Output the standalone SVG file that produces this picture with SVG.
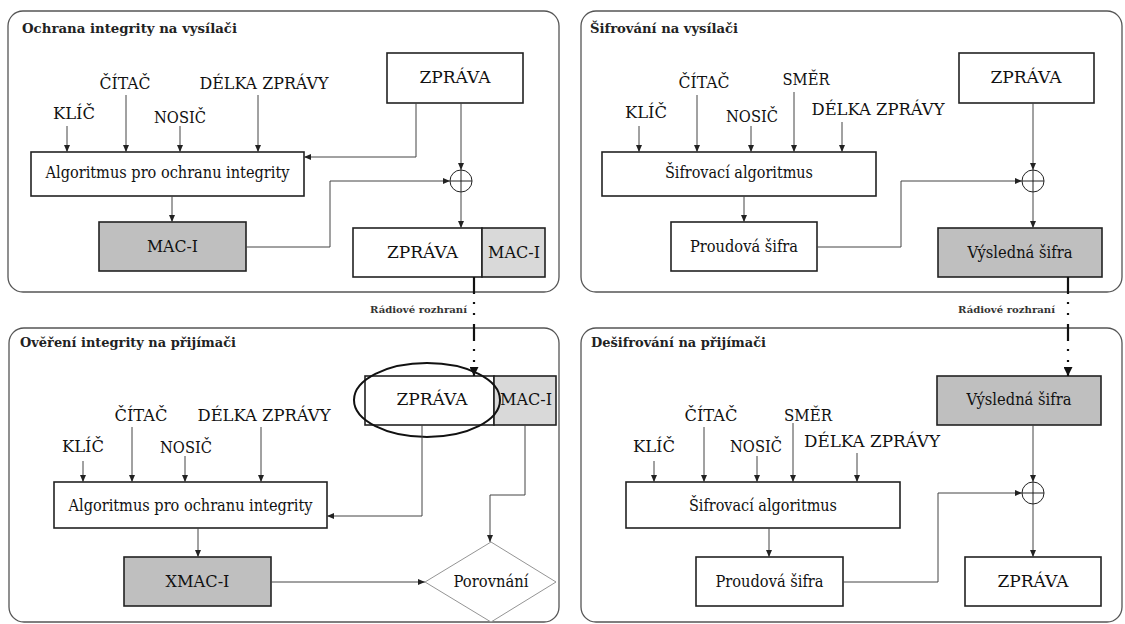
<svg xmlns="http://www.w3.org/2000/svg" width="1125" height="624" viewBox="0 0 1125 624">
<style>
.panel{fill:#fff;stroke:#555;stroke-width:1.3}
.box{fill:#fff;stroke:#222;stroke-width:1.6}
.dark{fill:#bfbfbf}
.light{fill:#d9d9d9}
text{font-family:"DejaVu Serif","Liberation Serif",serif}
.t{font-size:16px;fill:#111;text-anchor:middle}
.title{font-size:13px;font-weight:bold;fill:#222}
.radio{font-size:10px;font-weight:bold;fill:#333}
.c{fill:none;stroke:#444;stroke-width:1}
.dash{fill:none;stroke:#111;stroke-width:2.2;stroke-dasharray:17 8 2 9 2 9}
.xor{fill:#fff;stroke:#222;stroke-width:1}
.dia{fill:#fff;stroke:#888;stroke-width:0.9}
</style>
<defs>
<marker id="a" markerWidth="7" markerHeight="6" refX="7" refY="3" orient="auto" markerUnits="userSpaceOnUse"><path d="M0,0 L7,3 L0,6 Z" fill="#222"/></marker>
<marker id="ab" markerWidth="9" markerHeight="9" refX="9" refY="4.5" orient="auto" markerUnits="userSpaceOnUse"><path d="M0,0 L9,4.5 L0,9 Z" fill="#111"/></marker>
</defs>

<!-- Panels -->
<g id="panel-tl"><rect class="panel" x="8" y="11" width="551" height="281" rx="15"/><text class="title" x="22" y="33" textLength="215" lengthAdjust="spacingAndGlyphs">Ochrana integrity na vysílači</text></g>
<g id="panel-tr"><rect class="panel" x="581" y="11" width="541" height="281" rx="15"/><text class="title" x="590" y="33" textLength="148" lengthAdjust="spacingAndGlyphs">Šifrování na vysílači</text></g>
<g id="panel-bl"><rect class="panel" x="9" y="328" width="550" height="294" rx="15"/><text class="title" x="20" y="347" textLength="216" lengthAdjust="spacingAndGlyphs">Ověření integrity na přijímači</text></g>
<g id="panel-br"><rect class="panel" x="581" y="328" width="541" height="294" rx="15"/><text class="title" x="591" y="347" textLength="175" lengthAdjust="spacingAndGlyphs">Dešifrování na přijímači</text></g>

<!-- Top-left nodes -->
<g id="tl-zprava"><rect class="box" x="387" y="53" width="136" height="50"/><text class="t" x="455" y="83" textLength="71" lengthAdjust="spacingAndGlyphs">ZPRÁVA</text></g>
<g id="tl-labels">
<text class="t" x="125" y="89" textLength="51" lengthAdjust="spacingAndGlyphs">ČÍTAČ</text>
<text class="t" x="264" y="89" textLength="129" lengthAdjust="spacingAndGlyphs">DÉLKA ZPRÁVY</text>
<text class="t" x="74" y="119" textLength="42" lengthAdjust="spacingAndGlyphs">KLÍČ</text>
<text class="t" x="180" y="123" textLength="52" lengthAdjust="spacingAndGlyphs">NOSIČ</text>
</g>
<g id="tl-alg"><rect class="box" x="31" y="152" width="273" height="44"/><text class="t" x="167.5" y="178" textLength="244" lengthAdjust="spacingAndGlyphs">Algoritmus pro ochranu integrity</text></g>
<g id="tl-mac"><rect class="box dark" x="99" y="222" width="147" height="49"/><text class="t" x="172.5" y="252" textLength="51" lengthAdjust="spacingAndGlyphs">MAC-I</text></g>
<g id="tl-xor"><circle class="xor" cx="461" cy="181" r="11"/><path class="xor" d="M450,181 H472 M461,170 V192"/></g>
<g id="tl-out"><rect class="box" x="353" y="228" width="129" height="49"/><rect class="box light" x="482" y="228" width="63" height="49"/><text class="t" x="422.5" y="258" textLength="71" lengthAdjust="spacingAndGlyphs">ZPRÁVA</text><text class="t" x="514" y="258" textLength="52" lengthAdjust="spacingAndGlyphs">MAC-I</text></g>

<!-- Top-right nodes -->
<g id="tr-zprava"><rect class="box" x="959" y="53" width="135" height="50"/><text class="t" x="1026" y="83" textLength="71" lengthAdjust="spacingAndGlyphs">ZPRÁVA</text></g>
<g id="tr-labels">
<text class="t" x="704" y="88" textLength="51" lengthAdjust="spacingAndGlyphs">ČÍTAČ</text>
<text class="t" x="806" y="85" textLength="47" lengthAdjust="spacingAndGlyphs">SMĚR</text>
<text class="t" x="646" y="118" textLength="42" lengthAdjust="spacingAndGlyphs">KLÍČ</text>
<text class="t" x="752" y="122" textLength="52" lengthAdjust="spacingAndGlyphs">NOSIČ</text>
<text class="t" x="878" y="115" textLength="133" lengthAdjust="spacingAndGlyphs">DÉLKA ZPRÁVY</text>
</g>
<g id="tr-alg"><rect class="box" x="602" y="152" width="274" height="44"/><text class="t" x="739" y="178" textLength="148" lengthAdjust="spacingAndGlyphs">Šifrovací algoritmus</text></g>
<g id="tr-stream"><rect class="box" x="671" y="222" width="146" height="49"/><text class="t" x="744" y="252" textLength="108" lengthAdjust="spacingAndGlyphs">Proudová šifra</text></g>
<g id="tr-xor"><circle class="xor" cx="1033" cy="181" r="11"/><path class="xor" d="M1022,181 H1044 M1033,170 V192"/></g>
<g id="tr-out"><rect class="box dark" x="938" y="228" width="164" height="49"/><text class="t" x="1020" y="258" textLength="105" lengthAdjust="spacingAndGlyphs">Výsledná šifra</text></g>

<!-- Bottom-left nodes -->
<g id="bl-in"><rect class="box" x="365" y="376" width="129" height="49"/><rect class="box light" x="494" y="376" width="62" height="49"/><text class="t" x="432" y="405" textLength="71" lengthAdjust="spacingAndGlyphs">ZPRÁVA</text><text class="t" x="526" y="405" textLength="52" lengthAdjust="spacingAndGlyphs">MAC-I</text><ellipse cx="427" cy="400" rx="73" ry="37" fill="none" stroke="#111" stroke-width="2"/></g>
<g id="bl-labels">
<text class="t" x="141" y="421" textLength="53" lengthAdjust="spacingAndGlyphs">ČÍTAČ</text>
<text class="t" x="264" y="421" textLength="133" lengthAdjust="spacingAndGlyphs">DÉLKA ZPRÁVY</text>
<text class="t" x="83" y="452" textLength="42" lengthAdjust="spacingAndGlyphs">KLÍČ</text>
<text class="t" x="186" y="453" textLength="52" lengthAdjust="spacingAndGlyphs">NOSIČ</text>
</g>
<g id="bl-alg"><rect class="box" x="54" y="482" width="273" height="46"/><text class="t" x="190.5" y="511" textLength="244" lengthAdjust="spacingAndGlyphs">Algoritmus pro ochranu integrity</text></g>
<g id="bl-xmac"><rect class="box dark" x="124" y="557" width="147" height="49"/><text class="t" x="197.5" y="587" textLength="64" lengthAdjust="spacingAndGlyphs">XMAC-I</text></g>
<g id="bl-cmp"><path class="dia" d="M491,542 L556,582 L491,622 L425,582 Z"/><text class="t" x="491" y="587" textLength="75" lengthAdjust="spacingAndGlyphs">Porovnání</text></g>

<!-- Bottom-right nodes -->
<g id="br-in"><rect class="box dark" x="937" y="376" width="164" height="49"/><text class="t" x="1019" y="405" textLength="105" lengthAdjust="spacingAndGlyphs">Výsledná šifra</text></g>
<g id="br-labels">
<text class="t" x="711" y="421" textLength="53" lengthAdjust="spacingAndGlyphs">ČÍTAČ</text>
<text class="t" x="808" y="421" textLength="48" lengthAdjust="spacingAndGlyphs">SMĚR</text>
<text class="t" x="654" y="452" textLength="42" lengthAdjust="spacingAndGlyphs">KLÍČ</text>
<text class="t" x="756" y="452" textLength="52" lengthAdjust="spacingAndGlyphs">NOSIČ</text>
<text class="t" x="872" y="447" textLength="136" lengthAdjust="spacingAndGlyphs">DÉLKA ZPRÁVY</text>
</g>
<g id="br-alg"><rect class="box" x="626" y="482" width="274" height="46"/><text class="t" x="763" y="511" textLength="148" lengthAdjust="spacingAndGlyphs">Šifrovací algoritmus</text></g>
<g id="br-stream"><rect class="box" x="696" y="557" width="147" height="49"/><text class="t" x="769.5" y="587" textLength="108" lengthAdjust="spacingAndGlyphs">Proudová šifra</text></g>
<g id="br-xor"><circle class="xor" cx="1033" cy="493" r="11"/><path class="xor" d="M1022,493 H1044 M1033,482 V504"/></g>
<g id="br-out"><rect class="box" x="965" y="557" width="136" height="49"/><text class="t" x="1033" y="587" textLength="71" lengthAdjust="spacingAndGlyphs">ZPRÁVA</text></g>

<!-- Connectors -->
<g id="connectors">
<path class="c" marker-end="url(#a)" d="M67,126 V152"/>
<path class="c" marker-end="url(#a)" d="M126,95 V152"/>
<path class="c" marker-end="url(#a)" d="M180,126 V152"/>
<path class="c" marker-end="url(#a)" d="M258,95 V152"/>
<path class="c" marker-end="url(#a)" d="M172,196 V222"/>
<path class="c" marker-end="url(#a)" d="M416,103 V157 H304"/>
<path class="c" marker-end="url(#a)" d="M461,103 V170"/>
<path class="c" marker-end="url(#a)" d="M246,247 H330 V181 H450"/>
<path class="c" marker-end="url(#a)" d="M461,192 V228"/>

<path class="c" marker-end="url(#a)" d="M639,126 V152"/>
<path class="c" marker-end="url(#a)" d="M697,95 V152"/>
<path class="c" marker-end="url(#a)" d="M751,126 V152"/>
<path class="c" marker-end="url(#a)" d="M794,92 V152"/>
<path class="c" marker-end="url(#a)" d="M842,122 V152"/>
<path class="c" marker-end="url(#a)" d="M744,196 V222"/>
<path class="c" marker-end="url(#a)" d="M1033,103 V170"/>
<path class="c" marker-end="url(#a)" d="M817,247 H901 V181 H1022"/>
<path class="c" marker-end="url(#a)" d="M1033,192 V228"/>

<path class="dash" marker-end="url(#ab)" d="M474,277 V376"/>
<path class="dash" marker-end="url(#ab)" d="M1068,277 V376"/>
<text class="radio" x="370" y="313" textLength="97" lengthAdjust="spacingAndGlyphs">Rádiové rozhraní</text>
<text class="radio" x="958" y="313" textLength="97" lengthAdjust="spacingAndGlyphs">Rádiové rozhraní</text>

<path class="c" marker-end="url(#a)" d="M83,461 V482"/>
<path class="c" marker-end="url(#a)" d="M132,427 V482"/>
<path class="c" marker-end="url(#a)" d="M185,456 V482"/>
<path class="c" marker-end="url(#a)" d="M261,427 V482"/>
<path class="c" marker-end="url(#a)" d="M198,528 V557"/>
<path class="c" marker-end="url(#a)" d="M422,425 V516 H327"/>
<path class="c" marker-end="url(#a)" d="M525,425 V495 H490 V542"/>
<path class="c" marker-end="url(#a)" d="M271,582 H425"/>

<path class="c" marker-end="url(#a)" d="M654,461 V482"/>
<path class="c" marker-end="url(#a)" d="M704,427 V482"/>
<path class="c" marker-end="url(#a)" d="M757,456 V482"/>
<path class="c" marker-end="url(#a)" d="M793,423 V482"/>
<path class="c" marker-end="url(#a)" d="M857,453 V482"/>
<path class="c" marker-end="url(#a)" d="M769,528 V557"/>
<path class="c" marker-end="url(#a)" d="M1033,425 V482"/>
<path class="c" marker-end="url(#a)" d="M1033,504 V557"/>
<path class="c" marker-end="url(#a)" d="M843,582 H938 V493 H1022"/>
</g>
</svg>
